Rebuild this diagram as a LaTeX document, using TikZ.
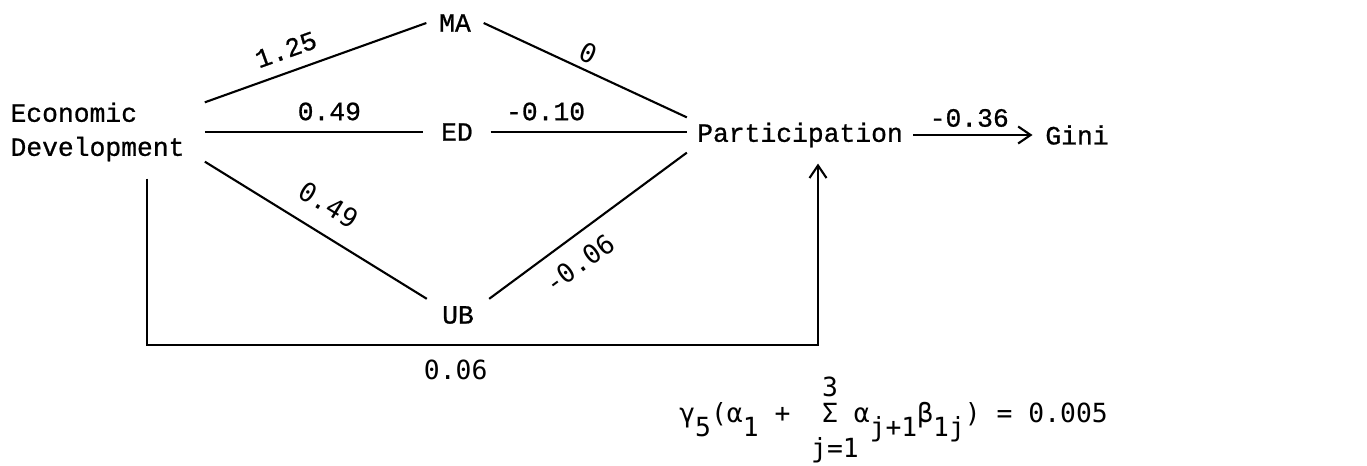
\documentclass[tikz,border=0pt]{standalone}
\usepackage{fontspec}
\setmainfont{Liberation Mono}[FakeBold=0.8]
\newfontfamily\gothic{DejaVu Sans Mono}
\usetikzlibrary{arrows.meta, calc}

\newcommand{\typesz}{\fontsize{15pt}{19.4pt}\selectfont}
\newcommand{\lowr}[1]{\raisebox{-8pt}{#1}}

\begin{document}
\begin{tikzpicture}[x=0.02cm, y=-0.02cm,
  var/.style={inner ysep=0.1cm, font=\typesz},
  coef/.style={font=\typesz, inner sep=2pt},
  hand/.style={font=\typesz\gothic, inner sep=2pt},
  link/.style={line width=1.2pt},
  arrow/.style={-{Straight Barb[length=2.5mm, width=3.4mm]}, line width=1.2pt}]

  \useasboundingbox (0,0) rectangle (1367,466);

  % variables
  \node[var, align=left, inner xsep=0.4cm, inner ysep=0pt] (econ) at (97.5,132) {Economic\\Development};
  \node[var, inner xsep=0.25cm] (ma)   at (455,23)  {MA};
  \node[var, inner xsep=0.35cm] (ed)   at (457,132) {ED};
  \node[var, inner xsep=0.3cm, inner ysep=0.14cm] (ub) at (458,315) {UB};
  \node[var, inner xsep=0.2cm]  (part) at (800,135) {Participation};
  \node[var, inner xsep=0.25cm] (gini) at (1077,135) {Gini};

  % paths
  \draw[link] (econ.north east) -- node[coef, above=5pt, sloped, pos=0.4] {1.25} (ma.west);
  \draw[link] (econ.east) -- node[coef, above=4pt, pos=0.57] {0.49} (econ.east -| ed.west);
  \draw[link] (econ.south east) -- node[hand, above=8pt, sloped, pos=0.49] {0.49} (ub.north west);
  \draw[link] (ma.east) -- node[hand, above=1pt, sloped, pos=0.48] {0} (part.north west);
  \draw[link] (ed.east) -- node[coef, above=4pt, pos=0.28] {-0.10} (ed.east -| part.west);
  \draw[link] (ub.north east) -- node[hand, below=6pt, sloped, pos=0.38] {-0.06} (part.south west);
  \draw[arrow] (part.east) -- node[coef, above=2pt, pos=0.47] {-0.36} (gini.west);
  \draw[arrow] ($(econ.south)+(49.5,17)$) -- ++(0,166)
    -| node[hand, below=6pt, pos=0.23] {0.06} ($(part.south)+(18,11)$);

  % indirect effect
  \node[hand, anchor=base west, inner sep=0pt] (gsum) at (679,422)
    {γ\lowr{5}(α\lowr{1}\ +\ \ Σ\ α\lowr{j+1}β\lowr{1j})\ =\ 0.005};
  \node[hand, inner sep=0pt] (sumtop) at (830,387) {3};
  \node[hand, inner sep=0pt] (sumbot) at (835,450) {j=1};
\end{tikzpicture}
\end{document}
